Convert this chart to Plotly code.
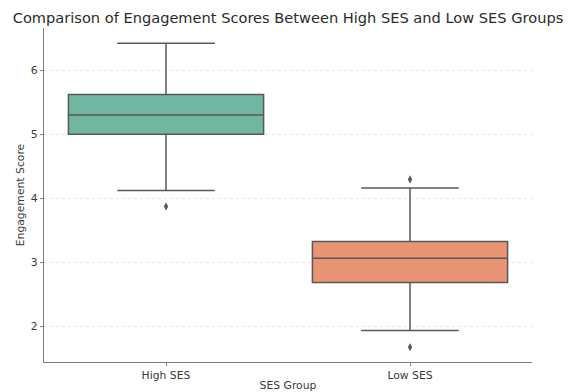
import plotly.graph_objects as go

groups = ["High SES", "Low SES"]
q1 = [5.00, 2.68]
median = [5.30, 3.06]
q3 = [5.62, 3.32]
lower_whisker = [4.12, 1.93]
upper_whisker = [6.42, 4.16]
outlier_x = ["High SES", "Low SES", "Low SES"]
outlier_y = [3.87, 4.29, 1.67]
fill_colors = ["#71b6a1", "#e99575"]
line_gray = "#595959"

fig = go.Figure()
for i, g in enumerate(groups):
    fig.add_trace(go.Box(
        x=[g], q1=[q1[i]], median=[median[i]], q3=[q3[i]],
        lowerfence=[lower_whisker[i]], upperfence=[upper_whisker[i]],
        fillcolor=fill_colors[i], line=dict(color=line_gray, width=1.5),
        width=0.8, whiskerwidth=0.5, boxpoints=False, showlegend=False,
        hoverinfo="skip",
    ))
fig.add_trace(go.Scatter(
    x=outlier_x, y=outlier_y, mode="markers",
    marker=dict(symbol="diamond-tall", size=6, color=line_gray),
    showlegend=False,
))

axis_font = dict(family="DejaVu Sans", size=10.8, color="#3a3a3a")
fig.update_layout(
    width=569, height=392,
    margin=dict(l=44, r=37, t=28, b=30),
    plot_bgcolor="white", paper_bgcolor="white",
    title=dict(text="Comparison of Engagement Scores Between High SES and Low SES Groups",
               x=0.5, xref="paper", y=1 - 18 / 392, yref="container", yanchor="middle",
               font=dict(family="DejaVu Sans", size=14.6, color="#2b2b2b")),
    font=dict(family="DejaVu Sans", size=10.8, color="#3a3a3a"),
    showlegend=False,
)
fig.update_xaxes(
    type="category", categoryorder="array", categoryarray=groups,
    range=[-0.5, 1.5], showgrid=False, zeroline=False, automargin=False,
    showline=True, linecolor="#7f7f7f", linewidth=1.2,
    ticks="outside", ticklen=3, tickcolor="#7f7f7f",
    tickfont=axis_font,
    title=dict(text="SES Group", font=axis_font, standoff=1),
)
fig.update_yaxes(
    range=[1.4375, 6.66], tickvals=[2, 3, 4, 5, 6],
    showgrid=True, gridcolor="#e6e6e6", griddash="dot", gridwidth=1,
    zeroline=False, showline=True, linecolor="#7f7f7f", linewidth=1.2,
    ticks="outside", ticklen=3, tickcolor="#7f7f7f", automargin=False,
    tickfont=axis_font,
    title=dict(text="Engagement Score", font=axis_font, standoff=4),
)

fig.write_html("out.html", config={"displayModeBar": False},
               post_script="document.body.style.margin='0';")
